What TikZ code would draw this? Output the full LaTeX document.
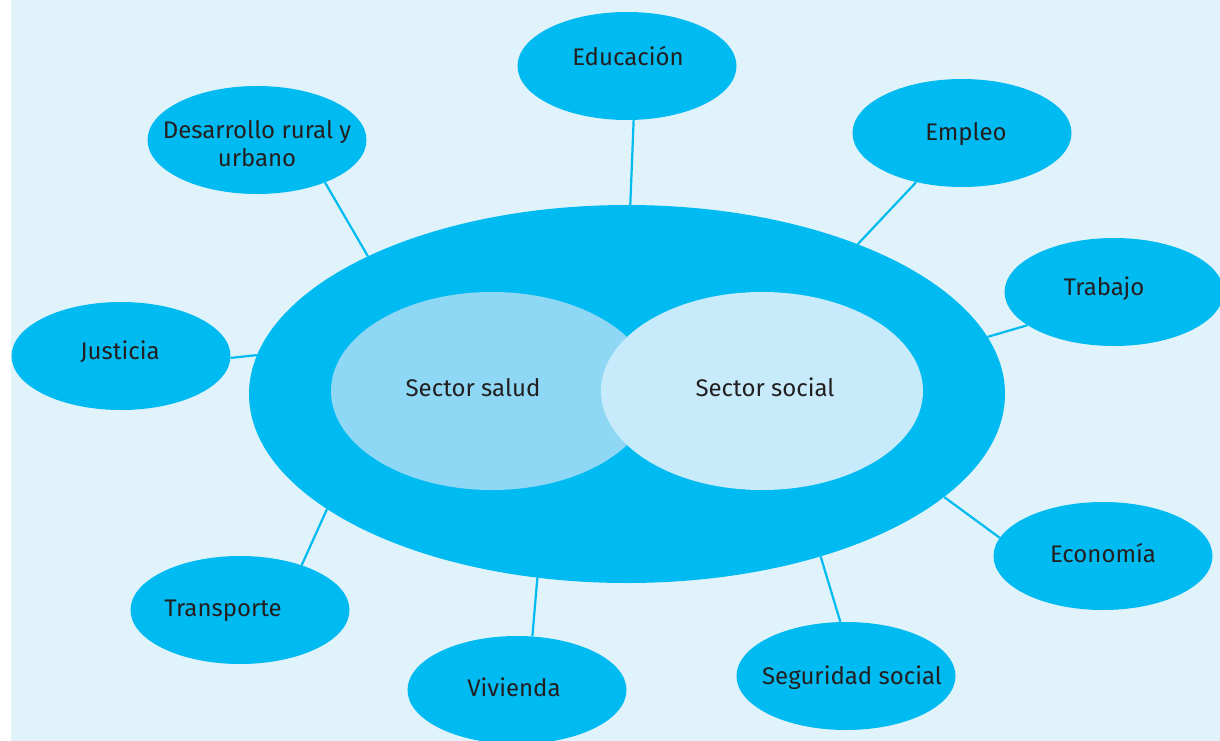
\documentclass[tikz,border=0pt]{standalone}
\usepackage{fontspec}
\setmainfont{Fira Sans}
\usetikzlibrary{shapes.geometric}
\definecolor{cyanA}{HTML}{00BBF1}
\definecolor{saludc}{HTML}{8ED8F6}
\definecolor{socialc}{HTML}{C7EBFA}
\definecolor{bgc}{HTML}{E0F3FB}
\definecolor{txtc}{HTML}{231F20}
\tikzset{
  bub/.style={ellipse, fill=cyanA, draw=none, inner sep=0pt, minimum width=219pt, minimum height=108pt},
  lbl/.style={anchor=base, text=txtc, font=\fontsize{24}{27}\selectfont, inner sep=0pt},
  conn/.style={draw=cyanA, line width=2.2pt}
}
\begin{document}
\begin{tikzpicture}[x=1pt,y=-1pt]
\useasboundingbox (0,0) rectangle (1220,741);
\fill[white] (0,0) rectangle (1220,741);
\fill[bgc] (11,0) rectangle (1220,741);
% outer bubbles
\node[bub] (edu) at (627,66) {};
\node[bub] (des) at (257,140) {};
\node[bub] (emp) at (962,133) {};
\node[bub] (tra) at (1114,292) {};
\node[bub] (jus) at (121,356) {};
\node[bub] (trn) at (240,610) {};
\node[bub] (viv) at (517,690) {};
\node[bub] (seg) at (846,676) {};
\node[bub] (eco) at (1103,556) {};
% big ellipse
\node[bub, minimum width=756pt, minimum height=378pt] (big) at (627,394) {};
\node[ellipse, fill=saludc, inner sep=0pt, minimum width=322pt, minimum height=198pt] (salud) at (492,391) {};
\node[ellipse, fill=socialc, inner sep=0pt, minimum width=322pt, minimum height=198pt] (social) at (762,391) {};
% connectors
\draw[conn] (edu.277.4) -- (big.89.1);
\draw[conn] (des.328.8) -- (big.152.1);
\draw[conn] (emp.227.3) -- (big.33.3);
\draw[conn] (tra.201.2) -- (big.9.7);
\draw[conn] (jus.359.5) -- (big.174.1);
\draw[conn] (trn.36.9) -- (big.201.8);
\draw[conn] (viv.74.9) -- (big.244.7);
\draw[conn] (seg.96.6) -- (big.320.6);
\draw[conn] (eco.170.1) -- (big.342.6);
% labels
\node[lbl] (tedu) at (628,66) {Educación};
\node[lbl] (tdes1) at (257,139) {Desarrollo rural y};
\node[lbl] (tdes2) at (257,166) {urbano};
\node[lbl] (temp) at (966,140) {Empleo};
\node[lbl] (ttra) at (1104,295) {Trabajo};
\node[lbl] (tjus) at (120,359) {Justicia};
\node[lbl] (ttrn) at (223,616) {Transporte};
\node[lbl] (tviv) at (514,696) {Vivienda};
\node[lbl] (tseg) at (852,684) {Seguridad social};
\node[lbl] (teco) at (1103,562) {Economía};
\node[lbl] (tsal) at (473,396) {Sector salud};
\node[lbl] (tsoc) at (765,396) {Sector social};
\end{tikzpicture}
\end{document}
